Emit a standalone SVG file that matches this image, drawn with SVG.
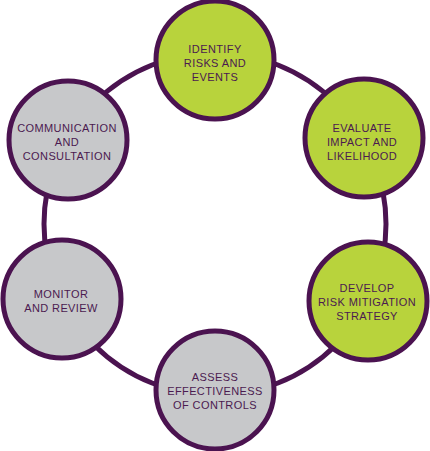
<svg xmlns="http://www.w3.org/2000/svg" width="430" height="451" viewBox="0 0 430 451">
<style>
.ring{fill:none;stroke:#4b1350;stroke-width:5}
.node{stroke:#4b1350;stroke-width:5}
.g{fill:#b8d33c}
.s{fill:#c7c8ca}
text{font-family:"Liberation Sans",Arial,sans-serif;font-size:11px;fill:#4b1a50;text-anchor:middle;letter-spacing:0.4px}
</style>
<rect width="430" height="451" fill="#ffffff"/>
<g id="connectors">
<circle class="ring" cx="215" cy="224" r="171"/>
</g>
<g id="identify">
<circle class="node g" cx="215" cy="60" r="59"/>
<text x="215" y="52.5">IDENTIFY</text>
<text x="215" y="66.5">RISKS AND</text>
<text x="215" y="80.5">EVENTS</text>
</g>
<g id="evaluate">
<circle class="node g" cx="364" cy="138" r="59"/>
<text x="362" y="131.8">EVALUATE</text>
<text x="362" y="145.8">IMPACT AND</text>
<text x="362" y="159.8">LIKELIHOOD</text>
</g>
<g id="develop">
<circle class="node g" cx="368" cy="301" r="59"/>
<text x="367" y="291.5">DEVELOP</text>
<text x="367" y="305.5">RISK MITIGATION</text>
<text x="367" y="319.5">STRATEGY</text>
</g>
<g id="assess">
<circle class="node s" cx="215" cy="390" r="59"/>
<text x="215" y="381">ASSESS</text>
<text x="215" y="395">EFFECTIVENESS</text>
<text x="215" y="409">OF CONTROLS</text>
</g>
<g id="monitor">
<circle class="node s" cx="62" cy="299" r="59"/>
<text x="61" y="298.2">MONITOR</text>
<text x="61" y="312.2">AND REVIEW</text>
</g>
<g id="communication">
<circle class="node s" cx="68" cy="140" r="59"/>
<text x="67" y="131.5">COMMUNICATION</text>
<text x="67" y="145.5">AND</text>
<text x="67" y="159.5">CONSULTATION</text>
</g>
</svg>
